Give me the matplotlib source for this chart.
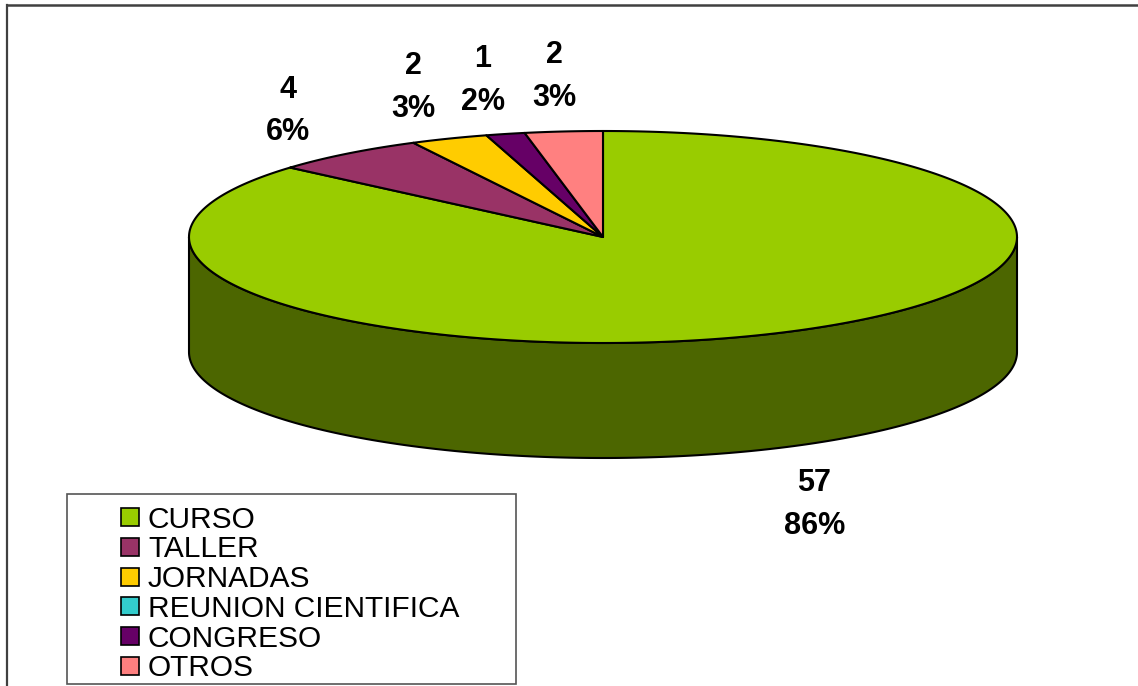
import numpy as np
import matplotlib.pyplot as plt
from matplotlib.patches import Polygon, Rectangle

categories = ['CURSO', 'TALLER', 'JORNADAS', 'REUNION CIENTIFICA', 'CONGRESO', 'OTROS']
counts = [57, 4, 2, 0, 1, 2]
top_colors = ['#99CC00', '#993366', '#FFCC00', '#33CCCC', '#660066', '#FF8080']
side_colors = ['#4C6600', '#4C1933', '#806600', '#196666', '#330033', '#804040']

plt.rcParams['font.family'] = ['Liberation Sans', 'DejaVu Sans']

W, H = 1138, 686
fig = plt.figure(figsize=(W / 100, H / 100), dpi=100)
ax = fig.add_axes([0, 0, 1, 1])
ax.set_xlim(0, W)
ax.set_ylim(H, 0)
ax.axis('off')

# pie geometry in pixels
cx, cy, rx, ry, depth = 603, 237, 414, 106, 115


def arc(t0, t1):
    n = max(int(abs(t1 - t0) * 2), 2)
    t = np.radians(np.linspace(t0, t1, n))
    return cx + rx * np.cos(t), cy - ry * np.sin(t)


total = sum(counts)
fracs = np.array(counts) / total
ends = 90 - np.cumsum(fracs) * 360   # slices run clockwise from 12 o'clock
starts = ends + fracs * 360

# side walls (front half only)
for i in range(len(counts)):
    if counts[i] == 0:
        continue
    for k in (-1, 0, 1):
        lo = max(ends[i], -180 + 360 * k)
        hi = min(starts[i], 360 * k)
        if hi > lo:
            xs, ys = arc(lo, hi)
            pts = np.column_stack([np.concatenate([xs, xs[::-1]]),
                                   np.concatenate([ys, ys[::-1] + depth])])
            ax.add_patch(Polygon(pts, closed=True, facecolor=side_colors[i],
                                 edgecolor='black', linewidth=1.5, joinstyle='round'))

# top faces
for i in range(len(counts)):
    if counts[i] == 0:
        continue
    xs, ys = arc(ends[i], starts[i])
    pts = np.vstack([[cx, cy], np.column_stack([xs, ys])])
    ax.add_patch(Polygon(pts, closed=True, facecolor=top_colors[i],
                         edgecolor='black', linewidth=1.5, joinstyle='round'))

# data labels
kx, ky = 1.23, 1.55
for i in range(len(counts)):
    if counts[i] == 0:
        continue
    mid = np.radians((starts[i] + ends[i]) / 2)
    lx = cx + rx * kx * np.cos(mid)
    ly = cy - ry * ky * np.sin(mid) + 3
    if np.sin(mid) < 0:
        ly += depth
    pct = round(fracs[i] * 100)
    ax.text(lx, ly, f'{counts[i]}\n{pct}%', ha='center', va='center',
            multialignment='center', fontsize=22, fontweight='bold',
            linespacing=1.55)

# legend
ax.add_patch(Rectangle((67, 494), 449, 190, facecolor='white',
                       edgecolor='#555555', linewidth=1.2))
for i, name in enumerate(categories):
    yc = 517 + i * 29.8
    ax.add_patch(Rectangle((121, yc - 9), 18, 18, facecolor=top_colors[i],
                           edgecolor='black', linewidth=1.2))
    ax.text(148, yc + 10.5, name, ha='left', va='baseline', fontsize=21.5)

# chart area frame
ax.plot([7, 7], [H + 5, 5], color='#404040', linewidth=1.6, clip_on=False)
ax.plot([7, W + 5], [5, 5], color='#404040', linewidth=1.8, clip_on=False)

fig.savefig('out.png', dpi=100)
